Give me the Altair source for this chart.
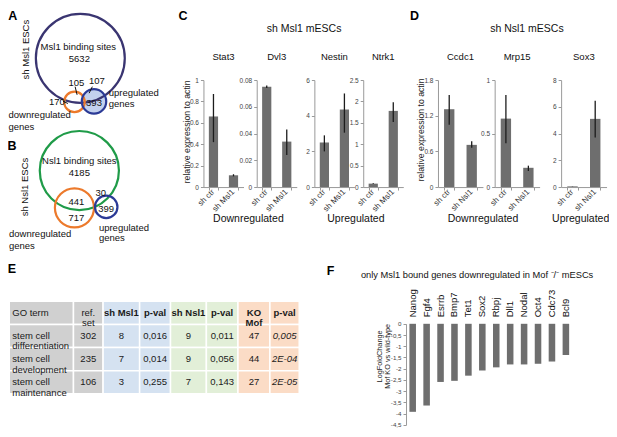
import altair as alt
import pandas as pd

# ---------------- data ----------------
c_genes = ["Stat3", "Dvl3", "Nestin", "Ntrk1"]
c_conditions = ["sh ctr", "sh Msl1"]
c_values = [[0.66, 0.11], [0.075, 0.034], [2.5, 4.35], [0.08, 1.78]]
c_err_low = [[0.42, 0.10], [0.074, 0.024], [2.0, 3.05], [0.07, 1.52]]
c_err_high = [[0.87, 0.12], [0.076, 0.043], [2.9, 5.25], [0.09, 1.98]]
c_axis_max = [1, 0.08, 6, 2.5]
c_ticks = [[0, 0.2, 0.4, 0.6, 0.8, 1], [0, 0.02, 0.04, 0.06, 0.08], [0, 2, 4, 6], [0, 0.5, 1, 1.5, 2, 2.5]]

d_genes = ["Ccdc1", "Mrp15", "Sox3"]
d_conditions = ["sh ctr", "sh Nsl1"]
d_values = [[1.31, 0.71], [0.64, 0.18], [0.05, 5.1]]
d_err_low = [[1.05, 0.66], [0.41, 0.15], [0.04, 3.7]]
d_err_high = [[1.55, 0.77], [0.86, 0.20], [0.06, 6.45]]
d_axis_max = [1.8, 1, 8]
d_ticks = [[0, 0.6, 1.2, 1.8], [0, 0.5, 1], [0, 2, 4, 6, 8]]

group_labels = ["Downregulated", "Upregulated"]

f_genes = ["Nanog", "Fgf4", "Esrrb", "Bmp7", "Tet1", "Sox2", "Rbpj", "Dll1", "Nodal", "Oct4", "Cdc73", "Bcl9"]
f_logfc = [-3.92, -3.64, -2.59, -2.54, -2.31, -2.08, -1.94, -1.81, -1.81, -1.78, -1.68, -1.39]
f_ticks = [0, -0.5, -1, -1.5, -2, -2.5, -3, -3.5, -4, -4.5]

venn_a_counts = ["5632", "105", "107", "170", "393"]
venn_b_counts = ["4185", "441", "30", "717", "399"]

table_headers = ["GO term", "ref.\nset", "sh Msl1", "p-val", "sh Nsl1", "p-val", "KO\nMof", "p-val"]
go_terms = ["stem cell\ndifferentiation", "stem cell\ndevelopment", "stem cell\nmaintenance"]
ref_set = ["302", "235", "106"]
sh_msl1 = ["8", "7", "3"]
pval_msl1 = ["0,016", "0,014", "0,255"]
sh_nsl1 = ["9", "9", "7"]
pval_nsl1 = ["0,011", "0,056", "0,143"]
ko_mof = ["47", "44", "27"]
pval_mof = ["0,005", "2E-04", "2E-05"]

# ---------------- layout / style ----------------
FONT = "Liberation Sans"
W, H = 601, 421
SCALE_X = 601 / 615
SCALE_Y = 421 / 435


def px(x):
    return round((x - 2) * SCALE_X, 2)


def py(y):
    return round((y - 2) * SCALE_Y, 2)


BAR_COLOR = "#6e6e6e"
ERR_COLOR = "#1c1c1c"
AXIS_GREY = "#9a9a9a"
BAR_BASE, BAR_TOP = 187, 76.5
c_plot_x = [(202, 243), (256.5, 297.5), (315.5, 356.5), (365.5, 406.5)]
d_plot_x = [(442, 488), (500, 546), (568, 614.5)]


def bar_panel(conds, vals, lo, hi, ymax, ticks, xr):
    df = pd.DataFrame({"condition": conds, "value": vals, "low": lo, "high": hi})
    xs = alt.Scale(domain=conds, range=[px(xr[0]), px(xr[1])], paddingInner=0.54, paddingOuter=0.27)
    ys = alt.Scale(domain=[0, ymax], range=[py(BAR_BASE), py(BAR_TOP)], nice=False)
    x_axis = alt.Axis(
        orient="bottom", offset=py(BAR_BASE) - H, title=None, labels=False,
        tickBand="extent", tickSize=3, tickColor=AXIS_GREY, domainColor=AXIS_GREY)
    y_axis = alt.Axis(
        orient="left", offset=-px(xr[0]), title=None, values=ticks, format="~g",
        labelFontSize=6.5, labelColor="#444", labelPadding=2, tickSize=3,
        tickColor=AXIS_GREY, domainColor=AXIS_GREY, grid=False, labelOverlap=False)
    base = alt.Chart(df)
    bars = base.mark_bar(color=BAR_COLOR).encode(
        x=alt.X("condition:N", scale=xs, axis=x_axis),
        y=alt.Y("value:Q", scale=ys, axis=y_axis),
    )
    err = base.mark_rule(color=ERR_COLOR, strokeWidth=1.3).encode(
        x=alt.X("condition:N", scale=xs, axis=x_axis),
        y=alt.Y("low:Q", scale=ys, axis=y_axis),
        y2="high:Q",
    )
    cond_labels = base.mark_text(angle=315, align="right", baseline="middle", fontSize=8,
                                 color="#333", font=FONT).encode(
        x=alt.X("condition:N", scale=xs, axis=x_axis),
        y=alt.value(py(BAR_BASE) + 4),
        text="condition:N",
    )
    return alt.layer(bars, err, cond_labels)


def ann(rows, **mark):
    df = pd.DataFrame(rows, columns=["text", "x", "y"])
    df["x"] = df["x"].map(px)
    df["y"] = df["y"].map(py)
    return alt.Chart(df).mark_text(font=FONT, **mark).encode(
        x=alt.X("x:Q", scale=None, axis=None),
        y=alt.Y("y:Q", scale=None, axis=None),
        text="text:N",
    )


layers = []

# ---- panels C and D: bar charts ----
for i in range(len(c_genes)):
    layers.append(bar_panel(c_conditions, c_values[i], c_err_low[i], c_err_high[i],
                            c_axis_max[i], c_ticks[i], c_plot_x[i]))
for i in range(len(d_genes)):
    layers.append(bar_panel(d_conditions, d_values[i], d_err_low[i], d_err_high[i],
                            d_axis_max[i], d_ticks[i], d_plot_x[i]))

# ---- panel F ----
f_df = pd.DataFrame({"gene": f_genes, "logfc": f_logfc})
f_xs = alt.Scale(domain=f_genes, range=[px(409), px(580)], paddingInner=0.53, paddingOuter=0.265)
f_ys = alt.Scale(domain=[-4.5, 0], range=[py(432.7), py(328.3)], nice=False)
f_bars = alt.Chart(f_df).mark_bar(color=BAR_COLOR).encode(
    x=alt.X("gene:N", scale=f_xs, axis=alt.Axis(
        orient="top", offset=-py(328.3), title=None, labelAngle=270, labelAlign="left",
        labelBaseline="middle", labelFontSize=9.5, labelColor="#111", labelPadding=7,
        domain=False, ticks=False)),
    y=alt.Y("logfc:Q", scale=f_ys, axis=alt.Axis(
        orient="left", offset=-px(409.3), title=None, values=f_ticks,
        labelExpr="replace(replace(format(datum.value, '~g'), '.', ','), '\u2212', '-')",
        labelFontSize=6.2, labelColor="#444", labelPadding=2, tickSize=3,
        tickColor=AXIS_GREY, domainColor=AXIS_GREY, grid=False, labelOverlap=False)),
)
layers.append(f_bars)

# ---- panel E: table ----
table_col_widths = [65.7, 30.3, 37.4, 31.6, 36.7, 32.3, 32.7, 30.0]
col_groups = ["grey", "grey", "msl1", "msl1", "nsl1", "nsl1", "mof", "mof"]
group_colors = ["#d0d0d0", "#d5e2f1", "#e2efd8", "#fbdcc6"]
row_keys = ["h", "r1", "r2", "r3"]
edges = [0.0]
for w in table_col_widths:
    edges.append(edges[-1] + w)
body_cols = [go_terms, ref_set, sh_msl1, pval_msl1, sh_nsl1, pval_nsl1, ko_mof, pval_mof]
cells = []
for c in range(8):
    hstyle = "left" if c == 0 else ("normal" if c == 1 else "bold")
    cells.append(dict(row="h", x0=edges[c], x1=edges[c + 1], xc=(edges[c] + edges[c + 1]) / 2,
                      grp=col_groups[c], text=table_headers[c], style=hstyle))
    for r in range(3):
        bstyle = "left" if c == 0 else ("italic" if c == 7 else "normal")
        cells.append(dict(row=row_keys[r + 1], x0=edges[c], x1=edges[c + 1],
                          xc=(edges[c] + edges[c + 1]) / 2, grp=col_groups[c],
                          text=body_cols[c][r], style=bstyle))
cells_df = pd.DataFrame(cells)
t_xs = alt.Scale(domain=[0, edges[-1]], range=[px(3.3), px(300)], nice=False, zero=False)
t_ys = alt.Scale(domain=row_keys, range=[py(305), py(400.7)], paddingInner=0, paddingOuter=0)
t_rect = alt.Chart(cells_df).mark_rect(stroke="white", strokeWidth=1.5).encode(
    x=alt.X("x0:Q", scale=t_xs, axis=None), x2="x1:Q",
    y=alt.Y("row:N", scale=t_ys, axis=None),
    color=alt.Color("grp:N", scale=alt.Scale(domain=["grey", "msl1", "nsl1", "mof"], range=group_colors),
                    legend=None),
)


def table_text(style, xfield, **mark):
    return alt.Chart(cells_df).transform_filter(alt.datum.style == style).mark_text(
        font=FONT, fontSize=9.5, lineBreak="\n", lineHeight=10.5, color="#1a1a1a", **mark).encode(
        x=alt.X(xfield, scale=t_xs, axis=None),
        y=alt.Y("row:N", scale=t_ys, axis=None),
        text="text:N",
    )


table = alt.layer(
    t_rect,
    table_text("left", "x0:Q", align="left", dx=3),
    table_text("normal", "xc:Q"),
    table_text("bold", "xc:Q", fontWeight="bold"),
    table_text("italic", "xc:Q", fontStyle="italic"),
)
layers.append(table)

# ---- panels A and B: Venn diagrams ----
venn_fill = pd.DataFrame([dict(x=px(90), y=py(98.5), size=(2 * 12.5 * SCALE_X) ** 2)])
layers.append(alt.Chart(venn_fill).mark_point(shape="circle", filled=True, color="#c3d1ee", opacity=1).encode(
    x=alt.X("x:Q", scale=None, axis=None), y=alt.Y("y:Q", scale=None, axis=None),
    size=alt.Size("size:Q", scale=None)))
venn_circles = pd.DataFrame([
    dict(x=76, y=54, r=45.5, col="#3a3571"),
    dict(x=70, y=99, r=10.5, col="#ec7a2c"),
    dict(x=90, y=98.5, r=12.5, col="#2b3a96"),
    dict(x=75, y=170, r=40.5, col="#1f9b48"),
    dict(x=70, y=208.5, r=20, col="#ec7a2c"),
    dict(x=102.5, y=207.5, r=11.5, col="#2b3a96"),
])
venn_circles["cx"] = venn_circles["x"].map(px)
venn_circles["cy"] = venn_circles["y"].map(py)
venn_circles["size"] = (2 * venn_circles["r"] * SCALE_X) ** 2
layers.append(alt.Chart(venn_circles).mark_point(shape="circle", filled=False, strokeWidth=2.2, opacity=1).encode(
    x=alt.X("cx:Q", scale=None, axis=None), y=alt.Y("cy:Q", scale=None, axis=None),
    size=alt.Size("size:Q", scale=None), stroke=alt.Stroke("col:N", scale=None)))
pointer_lines = pd.DataFrame([
    dict(x=70.7, y=83.3, x2=72.7, y2=91.7),
    dict(x=88.3, y=83.3, x2=85, y2=90),
    dict(x=58.3, y=98.3, x2=63.3, y2=100.7),
])
for k in ["x", "x2"]:
    pointer_lines[k] = pointer_lines[k].map(px)
for k in ["y", "y2"]:
    pointer_lines[k] = pointer_lines[k].map(py)
layers.append(alt.Chart(pointer_lines).mark_rule(color="#111", strokeWidth=1).encode(
    x=alt.X("x:Q", scale=None, axis=None), y=alt.Y("y:Q", scale=None, axis=None),
    x2="x2:Q", y2="y2:Q"))

venn_center_text = [
    ("Msl1 binding sites", 74, 42), (venn_a_counts[0], 75, 55), (venn_a_counts[1], 72, 79),
    (venn_a_counts[2], 93, 77), (venn_a_counts[3], 52, 99), (venn_a_counts[4], 90, 100),
    ("Nsl1 binding sites", 75, 160), (venn_b_counts[0], 75, 172), (venn_b_counts[1], 72, 202),
    (venn_b_counts[2], 97, 193), (venn_b_counts[3], 72, 219), (venn_b_counts[4], 102.5, 210),
]
layers.append(ann(venn_center_text, fontSize=9.5, color="#111"))
venn_left_text = [
    ("upregulated", 105, 90), ("genes", 105, 101), ("downregulated", 2.5, 113), ("genes", 2.5, 125),
    ("upregulated", 95, 229), ("genes", 95, 240), ("downregulated", 3, 236), ("genes", 3, 247.5),
]
layers.append(ann(venn_left_text, fontSize=9.5, color="#111", align="left"))
layers.append(ann([("sh Msl1 ESCs", 20, 45), ("sh Nsl1 ESCs", 19, 187)], fontSize=9.5, angle=270, color="#111"))

# ---- titles and labels ----
layers.append(ann([("A", 7, 10), ("B", 6, 145), ("C", 181, 10), ("D", 418, 10), ("E", 6, 272), ("F", 332, 274)],
                  fontSize=12.5, fontWeight="bold", color="#000"))
layers.append(ann([("sh Msl1 mESCs", 305, 24), ("sh Nsl1 mESCs", 533, 24)], fontSize=10.5, color="#111"))
gene_title_rows = [(g, (a + b) / 2, 53) for g, (a, b) in zip(c_genes, c_plot_x)] + \
                  [(g, (a + b) / 2, 53) for g, (a, b) in zip(d_genes, d_plot_x)]
layers.append(ann(gene_title_rows, fontSize=9.5, color="#111"))
layers.append(ann([(group_labels[0], 248, 220), (group_labels[1], 358, 220),
                   (group_labels[0], 488, 220), (group_labels[1], 588, 220)], fontSize=10.5, color="#111"))
layers.append(ann([("relative expression to actin", 185, 130), ("relative expression to actin", 425, 128)],
                  fontSize=8.7, angle=270, color="#222"))
layers.append(ann([("only Msl1 bound genes downregulated in Mof \u207b/\u207b mESCs", 482, 278)],
                  fontSize=9.3, color="#111"))
layers.append(ann([("LogFoldChange", 383, 362), ("Mof KO vs wild-type", 391, 362)],
                  fontSize=7.3, angle=270, color="#222"))

chart = alt.layer(*layers).resolve_scale(x="independent", y="independent").properties(
    width=W, height=H, autosize=alt.AutoSizeParams(type="none"), padding=0
).configure(font=FONT).configure_view(stroke=None)

chart.save("out.html", embed_options={"renderer": "svg", "actions": False})
